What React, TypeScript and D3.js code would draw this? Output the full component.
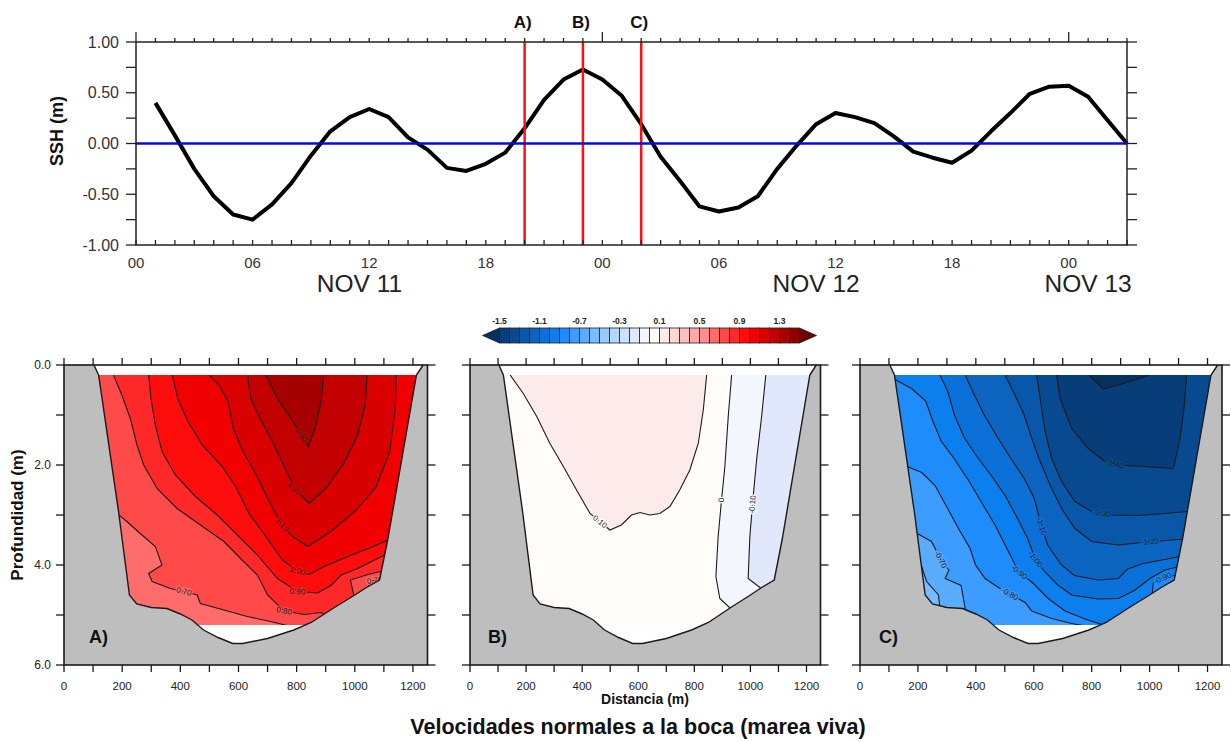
import React from "react";
import * as d3 from "d3";

const FONT = "'Liberation Sans', Arial, Helvetica, sans-serif";

// ---- sea surface height, hourly from NOV 11 01:00
const sshHours = d3.range(1, 52);
const sshValues = [
  0.40, 0.08, -0.25, -0.52, -0.70, -0.75, -0.60, -0.39, -0.12, 0.12, 0.26, 0.34, 0.26,
  0.06, -0.06, -0.24, -0.27, -0.20, -0.09, 0.15, 0.43, 0.63, 0.73, 0.63, 0.47, 0.19,
  -0.13, -0.37, -0.62, -0.67, -0.63, -0.52, -0.25, -0.02, 0.19, 0.30, 0.26, 0.20, 0.07,
  -0.08, -0.14, -0.19, -0.07, 0.12, 0.30, 0.49, 0.56, 0.57, 0.46, 0.23, 0.0,
];
const markHours = [20, 23, 26];
const markLabels = ["A)", "B)", "C)"];
const hourTicks = [0, 6, 12, 18, 24, 30, 36, 42, 48];
const hourLabels = ["00", "06", "12", "18", "00", "06", "12", "18", "00"];
const dayLabels = ["NOV 11", "NOV 12", "NOV 13"];
const dayHours = [11.5, 35, 49];
const sshTicks = [1, 0.5, 0, -0.5, -1];

// ---- colour scale (-1.5 .. 1.5 every 0.1, plus both ends)
const palette = [
  "#06305e", "#073d78", "#084a90", "#0957a8", "#0a64c0", "#0b71d8", "#0c7fee", "#1e8cfb",
  "#3c9cff", "#5aacff", "#78bcff", "#96cbff", "#b2d8ff", "#cbe2fd", "#e2e8fb", "#f4f6fe",
  "#fffcfa", "#fdeaea", "#ffd6d6", "#ffc0c0", "#ffa8a8", "#ff8e8e", "#ff6c6c", "#ff4a4a",
  "#ff2828", "#ff0d0d", "#f00000", "#da0000", "#c20000", "#a60000", "#8c0000", "#700000",
];
const cbLabelLevels = [-1.5, -1.1, -0.7, -0.3, 0.1, 0.5, 0.9, 1.3];

// ---- channel bottom (distance m, depth m)
const bathyDist = [103, 119, 188, 225, 250, 300, 354, 400, 440, 480, 530, 580, 615, 700, 790, 850, 930, 1000, 1040, 1085, 1114, 1212, 1235];
const bathyDepth = [0, 0.2, 2.95, 4.6, 4.78, 4.85, 4.87, 4.98, 5.1, 5.3, 5.45, 5.57, 5.57, 5.47, 5.3, 5.15, 4.85, 4.6, 4.45, 4.3, 3.47, 0.2, 0];

// ---- A) contours (m/s)
const a070 = [[175, 2.93], [216, 3.13], [262, 3.37], [314, 3.63], [337, 4.0], [291, 4.17], [303, 4.33], [366, 4.47], [412, 4.53], [458, 4.6], [469, 4.77], [550, 4.9], [630, 5.03], [711, 5.13], [780, 5.23]];
const a080 = [[170, 0.2], [199, 0.6], [228, 1.07], [251, 1.6], [274, 2.0], [320, 2.47], [389, 2.87], [469, 3.2], [550, 3.53], [607, 3.87], [665, 4.2], [700, 4.6], [757, 4.92], [826, 4.99], [884, 4.95], [918, 5.07]];
const a080b = [[999, 4.67], [985, 4.3], [1045, 4.19], [1125, 4.08]];
const a070b = [[1039, 4.57], [1054, 4.32], [1125, 4.27]];
const a090 = [[291, 0.2], [299, 0.67], [314, 1.2], [337, 1.73], [383, 2.2], [452, 2.63], [527, 3.0], [596, 3.4], [665, 3.8], [734, 4.27], [803, 4.53], [872, 4.56], [918, 4.41], [953, 4.2], [1010, 4.07], [1068, 3.9], [1130, 3.72]];
const a100 = [[372, 0.2], [391, 0.67], [426, 1.13], [475, 1.6], [544, 2.03], [590, 2.43], [636, 2.97], [694, 3.43], [751, 3.9], [803, 4.12], [843, 4.19], [895, 4.03], [976, 3.83], [1056, 3.65], [1130, 3.46]];
const a110 = [[498, 0.2], [533, 0.4], [564, 0.73], [582, 1.27], [613, 1.7], [659, 2.17], [705, 2.73], [746, 3.17], [786, 3.43], [838, 3.63], [918, 3.33], [1005, 2.9], [1074, 2.43], [1120, 1.73], [1139, 0.87], [1143, 0.2]];
const a120 = [[631, 0.2], [642, 0.67], [674, 1.07], [717, 1.53], [755, 2.0], [792, 2.47], [843, 2.77], [901, 2.47], [964, 1.95], [1010, 1.4], [1036, 0.8], [1042, 0.2]];
const a130 = [[694, 0.2], [734, 0.67], [780, 1.07], [820, 1.43], [840, 1.63], [863, 1.27], [884, 0.73], [893, 0.2]];

// ---- B) contours
const b010 = [[143, 0.2], [190, 0.57], [238, 1.03], [285, 1.57], [333, 2.03], [380, 2.5], [428, 2.97], [499, 3.3], [540, 3.2], [576, 3.0], [606, 2.95], [641, 3.0], [677, 2.97], [713, 2.83], [748, 2.5], [784, 2.1], [814, 1.57], [832, 0.9], [844, 0.2]];
const b000 = [[933, 0.2], [921, 1.03], [909, 2.03], [897, 2.7], [885, 3.43], [877, 4.23], [891, 4.67], [935, 4.9]];
const bm010 = [[1055, 0.2], [1040, 1.03], [1022, 1.9], [1010, 2.63], [998, 3.43], [992, 4.27], [1034, 4.45], [1050, 4.55]];

// ---- C) contours
const c060 = [[207, 3.93], [230, 4.33], [271, 4.6], [276, 4.87]];
const c070 = [[185, 3.33], [247, 3.53], [282, 3.93], [307, 4.1], [294, 4.27], [349, 4.41], [357, 4.67], [365, 4.93]];
const c080 = [[150, 2.0], [213, 2.15], [259, 2.41], [296, 2.8], [340, 3.27], [380, 3.67], [399, 4.0], [432, 4.27], [478, 4.45], [524, 4.6], [570, 4.75], [593, 4.92], [662, 5.07], [731, 5.17], [788, 5.23]];
const c090 = [[115, 0.27], [178, 0.47], [227, 0.72], [250, 1.1], [280, 1.52], [326, 1.88], [374, 2.3], [420, 2.75], [466, 3.2], [510, 3.7], [547, 4.13], [599, 4.37], [650, 4.67], [708, 4.92], [777, 5.08], [846, 5.21]];
const c090b = [[1007, 4.67], [1013, 4.35], [1059, 4.23], [1125, 4.19]];
const c100 = [[276, 0.2], [303, 0.53], [326, 1.0], [360, 1.45], [406, 1.85], [452, 2.2], [501, 2.61], [544, 3.07], [579, 3.47], [604, 3.87], [637, 4.13], [683, 4.4], [731, 4.6], [823, 4.68], [892, 4.67], [950, 4.5], [1001, 4.27], [1053, 4.1], [1125, 4.0]];
const c110 = [[363, 0.2], [395, 0.6], [429, 1.0], [475, 1.45], [521, 1.87], [567, 2.27], [602, 2.67], [622, 3.13], [648, 3.6], [694, 3.99], [740, 4.21], [823, 4.3], [892, 4.27], [924, 4.08], [978, 3.97], [1042, 3.9], [1125, 3.81]];
const c120 = [[501, 0.2], [535, 0.6], [567, 1.0], [593, 1.47], [622, 1.93], [660, 2.45], [696, 2.87], [742, 3.27], [800, 3.53], [892, 3.6], [1007, 3.53], [1125, 3.48]];
const c130 = [[610, 0.2], [622, 0.67], [639, 1.33], [662, 1.87], [696, 2.33], [742, 2.73], [800, 2.93], [869, 3.0], [961, 3.01], [1053, 2.97], [1135, 2.93]];
const c140 = [[679, 0.2], [691, 0.67], [731, 1.27], [788, 1.67], [846, 1.93], [892, 2.0], [984, 2.03], [1082, 2.07], [1105, 1.47], [1120, 0.8], [1128, 0.2]];
const c150 = [[791, 0.2], [840, 0.48], [898, 0.39], [998, 0.2]];

// level, line, fill value on the closed side, how to close, label position
const panelA = [
  { level: 0.7, pts: a070, fill: 0.75, close: "leftBottom", li: 8 },
  { level: 0.8, pts: a080, fill: 0.85, close: "topBottom", li: 12 },
  { level: 0.8, pts: a080b, fill: 0.75, close: "bottomRight" },
  { level: 0.7, pts: a070b, fill: 0.65, close: "bottomRight", li: 1.2 },
  { level: 0.9, pts: a090, fill: 0.95, close: "topRight", li: 10 },
  { level: 1.0, pts: a100, fill: 1.05, close: "topRight", li: 9 },
  { level: 1.1, pts: a110, fill: 1.15, close: "top", li: 7.1 },
  { level: 1.2, pts: a120, fill: 1.25, close: "top", li: 5 },
  { level: 1.3, pts: a130, fill: 1.35, close: "top", li: 2.9 },
];
const panelB = [
  { level: 0.1, pts: b010, fill: 0.15, close: "top", li: 6.5 },
  { level: 0, pts: b000, fill: -0.05, close: "topBottom", li: 3 },
  { level: -0.1, pts: bm010, fill: -0.15, close: "topBottom", li: 3.2 },
];
const panelC = [
  { level: -0.7, pts: c070, fill: -0.75, close: "leftBottom", li: 1.9 },
  { level: -0.6, pts: c060, fill: -0.55, close: "leftBottomLow" },
  { level: -0.8, pts: c080, fill: -0.85, close: "leftBottom", li: 8.85 },
  { level: -0.9, pts: c090, fill: -0.95, close: "leftBottom", li: 10.05 },
  { level: -0.9, pts: c090b, fill: -0.85, close: "bottomRight", li: 1.7 },
  { level: -1.0, pts: c100, fill: -1.05, close: "topRight", li: 9.05 },
  { level: -1.1, pts: c110, fill: -1.15, close: "topRight", li: 7.2 },
  { level: -1.2, pts: c120, fill: -1.25, close: "topRight", li: 9.95 },
  { level: -1.3, pts: c130, fill: -1.35, close: "topRight", li: 6.5 },
  { level: -1.4, pts: c140, fill: -1.45, close: "top", li: 4.75 },
  { level: -1.5, pts: c150, fill: -1.55, close: "top" },
];

const panels = [
  { id: "A", x0: 64, x1: 427.5, base: 0.65, contours: panelA, tag: "A)", tagX: 89, yLabels: true },
  { id: "B", x0: 470, x1: 820.5, base: 0.05, contours: panelB, tag: "B)", tagX: 488, yLabels: false },
  { id: "C", x0: 860, x1: 1222, base: -0.65, contours: panelC, tag: "C)", tagX: 879, yLabels: false },
];
const distTicks = d3.range(0, 1201, 100);
const distLabels = d3.range(0, 1201, 200);
const depthTicks = d3.range(0, 7);
const depthLabels = [0, 2, 4, 6];

const colorFor = (v: number) => {
  if (v < -1.5) return palette[0];
  if (v >= 1.5) return palette[31];
  return palette[Math.floor((v + 1.5) / 0.1 + 1e-6) + 1];
};

const closing = (pts: number[][], kind: string) => {
  const [sx, sy] = pts[0];
  const [ex, ey] = pts[pts.length - 1];
  const R = 1400, T = -1, B = 7, L = -100;
  switch (kind) {
    case "top": return [[ex, T], [sx, T]];
    case "topRight": return [[R, ey], [R, T], [sx, T]];
    case "topBottom": return [[ex, B], [R, B], [R, T], [sx, T]];
    case "leftBottom": return [[ex, B], [R, B], [R, T], [L, T], [L, sy]];
    case "leftBottomLow": return [[ex, B], [L, B], [L, sy]];
    default: return [[R, ey], [R, B], [sx, B]]; // bottomRight
  }
};

function Section({ p }: { p: any }) {
  const x = d3.scaleLinear().domain([0, 1250]).range([p.x0, p.x1]);
  const y = d3.scaleLinear().domain([0, 6]).range([365, 665]);
  const line = d3.line<number[]>().x((d) => x(d[0])).y((d) => y(d[1]));
  const bathy = bathyDist.map((d, i) => [d, bathyDepth[i]]);
  const waterPath = line(bathy) + "Z";
  const ink = "#1a1a1a";

  const labels = p.contours.filter((c: any) => c.li !== undefined).map((c: any, k: number) => {
    const i = Math.min(Math.floor(c.li), c.pts.length - 2);
    const t = c.li - i;
    const [d0, z0] = c.pts[i];
    const [d1, z1] = c.pts[i + 1];
    const px = x(d0 + (d1 - d0) * t);
    const py = y(z0 + (z1 - z0) * t);
    let ang = (Math.atan2(y(z1) - y(z0), x(d1) - x(d0)) * 180) / Math.PI;
    if (ang > 90) ang -= 180;
    if (ang < -90) ang += 180;
    const txt = c.level === 0 ? "0" : c.level.toFixed(2);
    const halo = colorFor(c.level > 0 ? c.level - 0.05 : c.level < 0 ? c.level + 0.05 : 0.05);
    return (
      <text key={k} x={px} y={py} transform={`rotate(${ang},${px},${py})`} textAnchor="middle"
        dominantBaseline="central" fontSize={8} fill="#222" stroke={halo} strokeWidth={2.5}
        style={{ paintOrder: "stroke" }}>{txt}</text>
    );
  });

  return (
    <g>
      <defs>
        <clipPath id={`water${p.id}`}><path d={waterPath} /></clipPath>
        <clipPath id={`band${p.id}`}>
          <rect x={p.x0} y={y(0.2)} width={p.x1 - p.x0} height={y(5.2) - y(0.2)} />
        </clipPath>
      </defs>
      <rect x={p.x0} y={y(0)} width={p.x1 - p.x0} height={y(6) - y(0)} fill="#bebebe" />
      <path d={waterPath} fill="#fff" />
      <g clipPath={`url(#water${p.id})`}>
        <g clipPath={`url(#band${p.id})`}>
          <rect x={p.x0} y={y(0)} width={p.x1 - p.x0} height={y(6) - y(0)} fill={colorFor(p.base)} />
          {p.contours.map((c: any, k: number) => (
            <path key={k} d={line(c.pts.concat(closing(c.pts, c.close))) + "Z"} fill={colorFor(c.fill)} />
          ))}
          {p.contours.map((c: any, k: number) => (
            <path key={k} d={line(c.pts) || ""} fill="none" stroke={ink} strokeWidth={1.1} />
          ))}
          {labels}
        </g>
      </g>
      <path d={line(bathy) || ""} fill="none" stroke={ink} strokeWidth={1.4} />
      <rect x={p.x0} y={y(0)} width={p.x1 - p.x0} height={y(6) - y(0)} fill="none" stroke={ink} strokeWidth={1.6} />
      {distTicks.map((d) => (
        <g key={d}>
          <line x1={x(d)} x2={x(d)} y1={y(0)} y2={y(0) - 7} stroke={ink} strokeWidth={1.3} />
          <line x1={x(d)} x2={x(d)} y1={y(6)} y2={y(6) + 7} stroke={ink} strokeWidth={1.3} />
        </g>
      ))}
      {depthTicks.map((d) => (
        <g key={d}>
          <line x1={p.x0 - 8} x2={p.x0} y1={y(d)} y2={y(d)} stroke={ink} strokeWidth={1.3} />
          <line x1={p.x1} x2={p.x1 + 8} y1={y(d)} y2={y(d)} stroke={ink} strokeWidth={1.3} />
        </g>
      ))}
      {distLabels.map((d) => (
        <text key={d} x={x(d)} y={690} textAnchor="middle" fontSize={11.5} fill="#222">{d}</text>
      ))}
      {p.yLabels && depthLabels.map((d) => (
        <text key={d} x={p.x0 - 13} y={y(d) + 4} textAnchor="end" fontSize={12} fill="#222">{d.toFixed(1)}</text>
      ))}
      <text x={p.tagX} y={643} fontSize={18} fontWeight="bold" fill="#111">{p.tag}</text>
    </g>
  );
}

export default function App() {
  const xT = d3.scaleLinear().domain([0, 51]).range([136, 1127]);
  const yT = d3.scaleLinear().domain([-1, 1]).range([245, 42]);
  const sshLine = d3.line<number>().x((_, i) => xT(sshHours[i])).y((d) => yT(d));
  const cbX = d3.scaleLinear().domain([-1.5, 1.5]).range([499.5, 799.5]);
  const cbY0 = 328, cbH = 15;
  const ink = "#222";

  return (
    <svg width={1231} height={742} fontFamily={FONT}
      style={{ position: "absolute", left: 0, top: 0, background: "#fff" }}>
      {/* SSH time series */}
      <path d={sshLine(sshValues) || ""} fill="none" stroke="#000" strokeWidth={4} strokeLinejoin="round" />
      {markHours.map((h, i) => (
        <g key={h}>
          <line x1={xT(h)} x2={xT(h)} y1={yT(1)} y2={yT(-1)} stroke="#ff1010" strokeWidth={2.5} />
          <text x={xT(h) - 2} y={28} textAnchor="middle" fontSize={17} fontWeight="bold" fill="#111">{markLabels[i]}</text>
        </g>
      ))}
      <line x1={xT(0)} x2={xT(51)} y1={yT(0)} y2={yT(0)} stroke="#0a0ad8" strokeWidth={2.5} />
      <rect x={xT(0)} y={yT(1)} width={xT(51) - xT(0)} height={yT(-1) - yT(1)} fill="none" stroke={ink} strokeWidth={1.5} />
      {d3.range(0, 52).map((h) => (
        <g key={h}>
          <line x1={xT(h)} x2={xT(h)} y1={yT(1)} y2={yT(1) - (h % 24 === 0 ? 10 : 4)} stroke={ink} strokeWidth={1.3} />
          <line x1={xT(h)} x2={xT(h)} y1={yT(-1)} y2={yT(-1) - 5} stroke={ink} strokeWidth={1.3} />
        </g>
      ))}
      {d3.range(-4, 5).map((k) => (
        <g key={k}>
          <line x1={xT(0) - 10} x2={xT(0)} y1={yT(k / 4)} y2={yT(k / 4)} stroke={ink} strokeWidth={1.3} />
          <line x1={xT(51)} x2={xT(51) + 10} y1={yT(k / 4)} y2={yT(k / 4)} stroke={ink} strokeWidth={1.3} />
        </g>
      ))}
      {sshTicks.map((v) => (
        <text key={v} x={119} y={yT(v) + 5.5} textAnchor="end" fontSize={16} fill="#333">{v.toFixed(2)}</text>
      ))}
      {hourTicks.map((h, i) => (
        <text key={h} x={xT(h)} y={268} textAnchor="middle" fontSize={15} fill="#333">{hourLabels[i]}</text>
      ))}
      {dayLabels.map((d, i) => (
        <text key={d} x={xT(dayHours[i])} y={292} textAnchor="middle" fontSize={24.5} fill="#222">{d}</text>
      ))}
      <text transform="translate(63,131) rotate(-90)" textAnchor="middle" fontSize={18} fontWeight="bold" fill="#111">SSH (m)</text>

      {/* colour bar */}
      {d3.range(1, 31).map((i) => (
        <rect key={i} x={cbX(-1.5 + (i - 1) * 0.1)} y={cbY0} width={cbX(0.1) - cbX(0)} height={cbH}
          fill={palette[i]} stroke="#222" strokeWidth={0.8} />
      ))}
      <path d={`M${cbX(-1.5)},${cbY0}L${cbX(-1.5)},${cbY0 + cbH}L${cbX(-1.5) - 17},${cbY0 + cbH / 2}Z`} fill={palette[0]} stroke="#222" strokeWidth={0.8} />
      <path d={`M${cbX(1.5)},${cbY0}L${cbX(1.5)},${cbY0 + cbH}L${cbX(1.5) + 17},${cbY0 + cbH / 2}Z`} fill={palette[31]} stroke="#222" strokeWidth={0.8} />
      {cbLabelLevels.map((v) => (
        <text key={v} x={cbX(v)} y={324} textAnchor="middle" fontSize={8.5} fontWeight="bold" fill="#222">{v.toFixed(1)}</text>
      ))}

      {/* cross sections */}
      {panels.map((p) => <Section key={p.id} p={p} />)}
      <text transform="translate(23,515) rotate(-90)" textAnchor="middle" fontSize={17} fontWeight="bold" fill="#111">Profundidad (m)</text>
      <text x={645} y={704} textAnchor="middle" fontSize={14} fontWeight="bold" fill="#111">Distancia (m)</text>
      <text x={638} y={734} textAnchor="middle" fontSize={21.5} fontWeight="bold" fill="#111">Velocidades normales a la boca (marea viva)</text>
    </svg>
  );
}
